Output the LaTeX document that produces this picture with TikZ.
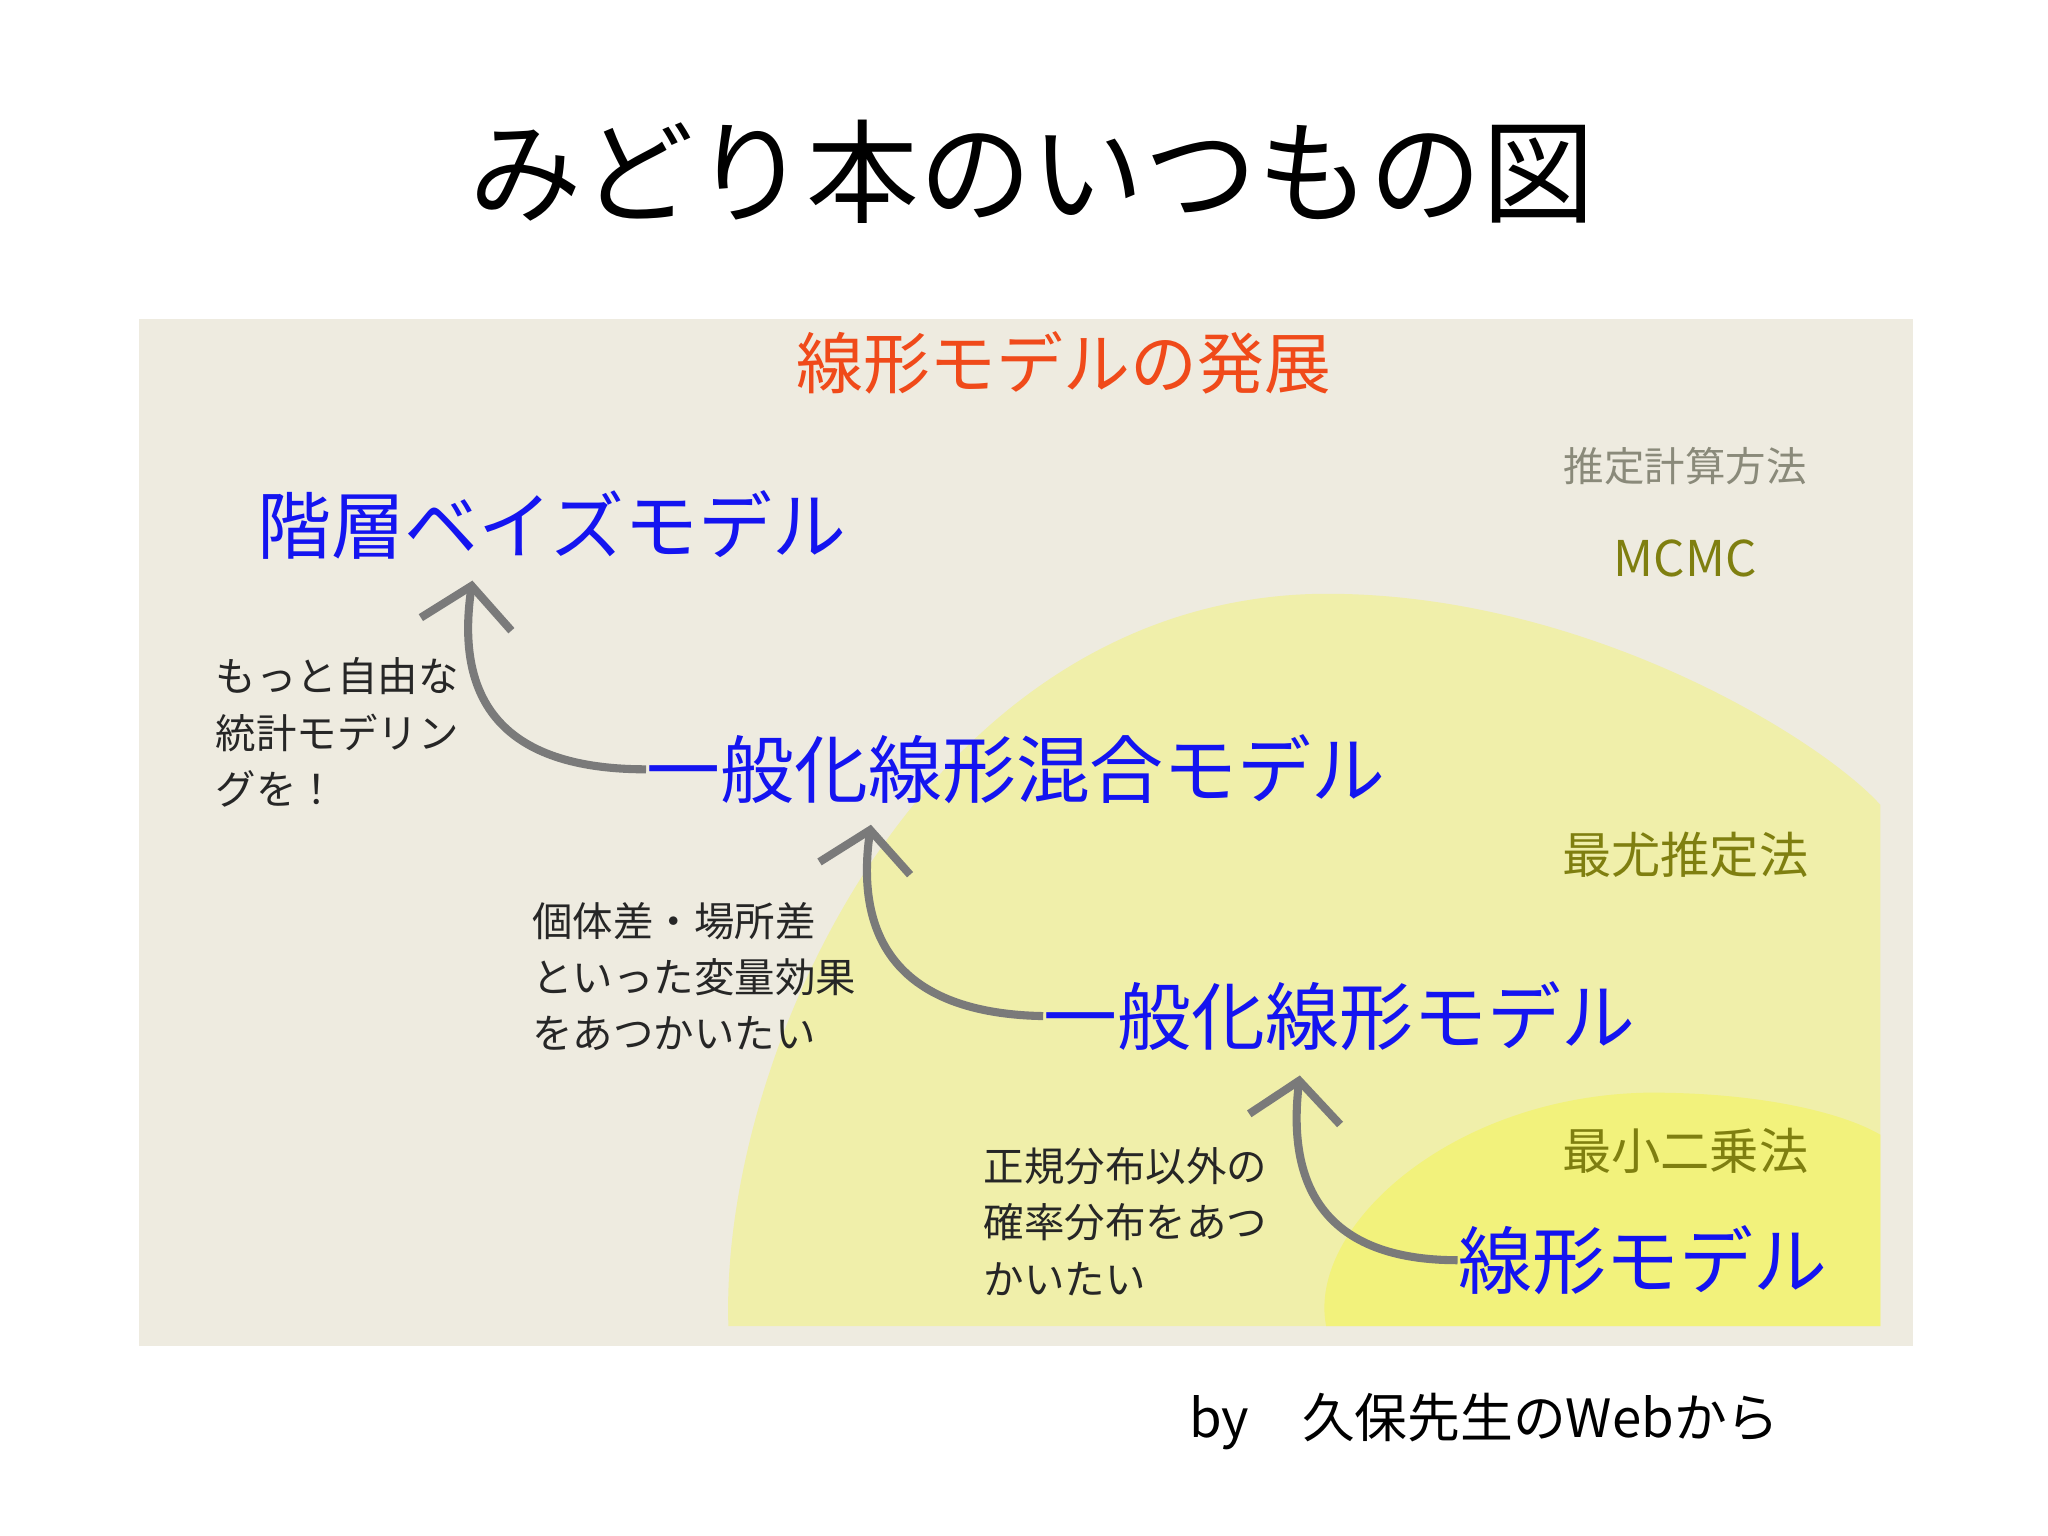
\documentclass[tikz,border=0pt]{standalone}
\usepackage{fontspec}
\setmainfont{Noto Sans CJK JP}
\usetikzlibrary{arrows.meta}
\definecolor{bg}{HTML}{EEEBE0}
\definecolor{yel1}{HTML}{F0EFAA}
\definecolor{yel2}{HTML}{F2F27C}
\definecolor{blu}{HTML}{1414F0}
\definecolor{org}{HTML}{F04A1A}
\definecolor{olv}{HTML}{7F7F10}
\definecolor{gry}{HTML}{8A8A7A}
\definecolor{arr}{HTML}{7A7A7A}
\begin{document}
\begin{tikzpicture}[x=0.01319cm,y=-0.01319cm,
  blue/.style={text=blu,font=\fontsize{21}{24}\selectfont,inner sep=0},
  meth/.style={text=olv,font=\fontsize{14}{16}\selectfont,inner sep=0},
  note/.style={text=black!85,font=\fontsize{11.5}{16}\selectfont,align=left,anchor=north west,inner sep=0},
  ar/.style={draw=arr,line width=2.3pt,-{Straight Barb[length=11pt,width=26pt,line width=2.3pt]}}]
\useasboundingbox (0,0) rectangle (1552,1164);
\fill[bg] (105,242) rectangle (1450,1020);
\fill[yel1] (552,1005) .. controls (545,800) and (700,455) .. (1000,450)
  .. controls (1200,448) and (1380,560) .. (1425,610) -- (1425,1005) -- cycle;
\fill[yel2] (1005,1005) .. controls (990,930) and (1100,830) .. (1250,828)
  .. controls (1340,828) and (1400,845) .. (1425,860) -- (1425,1005) -- cycle;
\node[font=\fontsize{32}{36}\selectfont,inner sep=0] (title) at (782,130) {みどり本のいつもの図};
\node[text=org,font=\fontsize{19}{22}\selectfont,inner sep=0] (sub) at (806,275) {線形モデルの発展};
\node[text=gry,font=\fontsize{11.5}{14}\selectfont,inner sep=0] (est) at (1277,353) {推定計算方法};
\node[meth] (mcmc) at (1277,423) {MCMC};
\node[meth] (ml) at (1277,648) {最尤推定法};
\node[meth] (ls) at (1277,872) {最小二乗法};
\node[blue] (hb) at (418,398) {階層ベイズモデル};
\node[blue] (glmm) at (770,583) {一般化線形混合モデル};
\node[blue] (glm) at (1015,770) {一般化線形モデル};
\node[blue] (lm) at (1245,955) {線形モデル};
\node[note] (n1) at (163,498) {もっと自由な\\統計モデリン\\グを！};
\node[note] (n2) at (403,683) {個体差・場所差\\といった変量効果\\をあつかいたい};
\node[note] (n3) at (745,869) {正規分布以外の\\確率分布をあつ\\かいたい};
\coordinate (t1) at (358,440);
\coordinate (t2) at (660,625);
\coordinate (t3) at (985,815);
\draw[ar] (glmm.west) .. controls (380,583) and (345,530) .. (t1);
\draw[ar] (glm.west) .. controls (680,768) and (648,710) .. (t2);
\draw[ar] (lm.west) .. controls (1005,955) and (975,900) .. (t3);
\node[font=\fontsize{15}{18}\selectfont,inner sep=0] (by) at (1125,1077) {by\quad 久保先生のWebから};
\end{tikzpicture}
\end{document}
